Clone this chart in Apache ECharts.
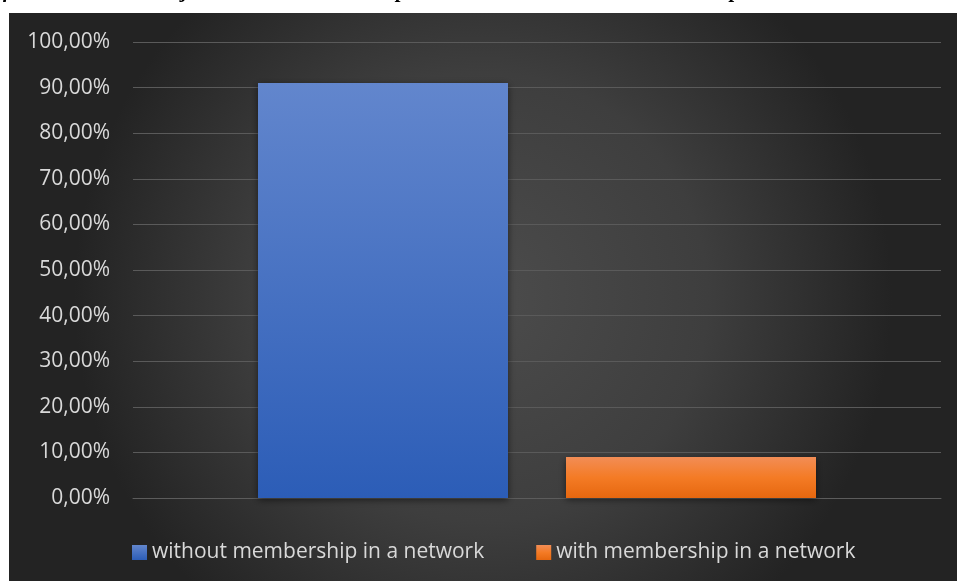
<!DOCTYPE html>
<html>
<head>
<meta charset="utf-8">
<script src="https://cdn.jsdelivr.net/npm/echarts@6/dist/echarts.min.js"></script>
<style>
  html, body { margin: 0; padding: 0; background: #ffffff; }
  #chart { width: 957px; height: 581px; }
</style>
</head>
<body>
<div id="chart"></div>
<script>
// Share of respondents by network membership
const categories = ['Share'];
const seriesNames = ['without membership in a network', 'with membership in a network'];
const withoutMembership = [0.91];
const withMembership = [0.09];
const captionLead = 'Figure 6. Share o';
const captionText = 'Figure 6. Share of the interviewed subjects with the membership in a network and without membership';

const captionFont = 'italic bold 21px "Liberation Serif"';

// the caption sits above the chart panel; shift it so "of" starts at the page edge
const ctx = document.createElement('canvas').getContext('2d');
ctx.font = captionFont;
const captionShift = 3 - ctx.measureText(captionLead).width;

const chart = echarts.init(document.getElementById('chart'), null, { renderer: 'canvas' });

const fmtPct = v => (v * 100).toFixed(2).replace('.', ',') + '%';

chart.setOption({
  animation: false,
  graphic: [
    {
      type: 'rect',
      z: -10,
      silent: true,
      shape: { x: 9, y: 13, width: 948, height: 568 },
      style: {
        fill: {
          type: 'radial', x: 0.5, y: 0.5, r: 0.72,
          colorStops: [
            { offset: 0, color: '#4c4c4c' },
            { offset: 0.55, color: '#3e3e3e' },
            { offset: 1, color: '#232323' }
          ]
        }
      }
    },
    {
      type: 'text',
      z: -20,
      x: captionShift,
      y: -19,
      silent: true,
      style: {
        text: captionText,
        font: captionFont,
        fill: '#000000'
      }
    }
  ],
  grid: { left: 133, right: 16, top: 42, bottom: 83, containLabel: false },
  legend: {
    data: seriesNames,
    left: 127,
    top: 537,
    itemWidth: 15,
    itemHeight: 15,
    itemGap: 52,
    icon: 'rect',
    textStyle: { color: '#d9d9d9', fontSize: 21, fontFamily: 'Open Sans', padding: [0, 0, 0, 0] }
  },
  xAxis: {
    type: 'category',
    data: categories,
    axisLine: { show: true, lineStyle: { color: '#5c5c5c', width: 1 } },
    axisTick: { show: false },
    axisLabel: { show: false }
  },
  yAxis: {
    type: 'value',
    min: 0,
    max: 1,
    interval: 0.1,
    axisLine: { show: false },
    axisTick: { show: false },
    splitLine: { lineStyle: { color: '#5a5a5a', width: 1 } },
    axisLabel: {
      color: '#d9d9d9',
      fontSize: 21,
      fontFamily: 'Open Sans',
      margin: 23,
      formatter: v => fmtPct(v)
    }
  },
  series: [
    {
      name: seriesNames[0],
      type: 'bar',
      data: withoutMembership,
      barWidth: 250,
      barGap: '23.2%',
      itemStyle: {
        color: {
          type: 'linear', x: 0, y: 0, x2: 0, y2: 1,
          colorStops: [
            { offset: 0, color: '#6286cd' },
            { offset: 1, color: '#2c5db7' }
          ]
        },
        shadowColor: 'rgba(0,0,0,0.55)',
        shadowBlur: 7,
        shadowOffsetY: 2
      }
    },
    {
      name: seriesNames[1],
      type: 'bar',
      data: withMembership,
      barWidth: 250,
      itemStyle: {
        color: {
          type: 'linear', x: 0, y: 0, x2: 0, y2: 1,
          colorStops: [
            { offset: 0, color: '#f28d56' },
            { offset: 0.5, color: '#f47b25' },
            { offset: 1, color: '#e6670f' }
          ]
        },
        shadowColor: 'rgba(0,0,0,0.55)',
        shadowBlur: 7,
        shadowOffsetY: 2
      }
    }
  ]
});
</script>
</body>
</html>
